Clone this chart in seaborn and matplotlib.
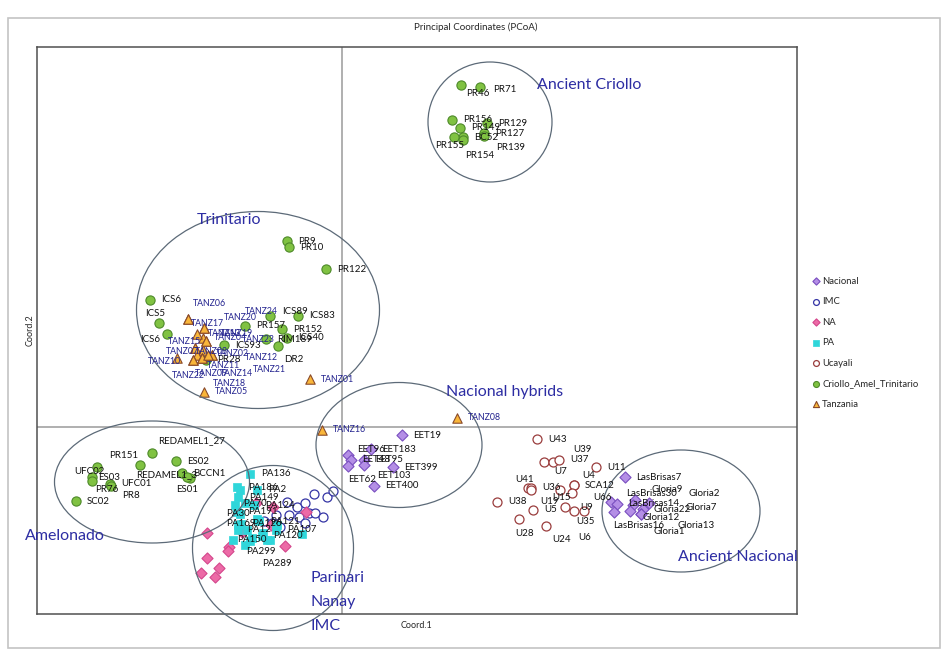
import numpy as np
import pandas as pd
import matplotlib.pyplot as plt
import seaborn as sns
from matplotlib.patches import Ellipse, Rectangle

# ---- data: Coord.1 / Coord.2 ----
crio_names = ['PR46', 'PR71', 'PR156', 'PR149', 'PR129', 'PR127', 'BC52', 'PR155', 'PR139', 'PR154',
              'PR9', 'PR10', 'PR122', 'ICS6', 'ICS5', 'ICS6', 'ICS89', 'ICS83', 'PR157', 'PR152',
              'ICS40', 'RIM189', 'DR2', 'ICS93', 'PR28',
              'REDAMEL1_27', 'PR151', 'UFC02', 'ES03', 'PR76', 'UFC01', 'PR8', 'SC02', 'ES02',
              'BCCN1', 'REDAMEL1_3', 'ES01']
crio_x = [1.19, 1.38, 1.10, 1.18, 1.45, 1.42, 1.21, 1.12, 1.42, 1.21,
          -0.55, -0.53, -0.16, -1.92, -1.83, -1.75, -0.72, -0.44, -0.97, -0.60,
          -0.55, -0.76, -0.64, -1.18, -1.36,
          -1.90, -2.02, -2.45, -2.50, -2.50, -2.32, -2.31, -2.66, -1.66,
          -1.60, -1.52, -1.55]
crio_y = [3.42, 3.40, 3.07, 2.99, 3.04, 2.94, 2.90, 2.90, 2.91, 2.87,
          1.86, 1.80, 1.58, 1.27, 1.04, 0.93, 1.11, 1.11, 1.01, 0.98,
          0.89, 0.88, 0.81, 0.82, 0.67,
          -0.26, -0.38, -0.40, -0.50, -0.54, -0.57, -0.59, -0.74, -0.34,
          -0.46, -0.51, -0.50]

tan_names = ['TANZ%02d' % i for i in range(1, 25)]
tan_x = [-0.32, -1.39, -1.47, -1.39, -1.38, -1.54, -1.45, 1.15, -1.49, -1.65, -1.40, -1.30,
         -1.45, -1.30, -1.47, -0.20, -1.54, -1.40, -1.36, -1.38, -1.34, -1.49, -1.36, -1.38]
tan_y = [0.48, 0.77, 0.79, 0.89, 0.35, 1.08, 0.72, 0.09, 0.67, 0.69, 0.69, 0.72,
         0.93, 0.72, 0.79, -0.03, 1.08, 0.69, 0.86, 0.99, 0.72, 0.67, 0.86, 0.99]

nac_names = ['EET19', 'EET96', 'EET183', 'EET48', 'EET95', 'EET399', 'EET62', 'EET103', 'EET400',
             'LasBrisas7', 'LasBrisas30', 'LasBrisas14', 'LasBrisas16', 'Gloria9', 'Gloria7',
             'Gloria12', 'Gloria22', 'Gloria2', 'Gloria13', 'Gloria1']
nac_x = [0.60, 0.06, 0.29, 0.09, 0.22, 0.51, 0.06, 0.22, 0.32,
         2.83, 2.69, 2.75, 2.72, 2.93, 2.91, 2.88, 3.01, 3.07, 2.99, 2.99]
nac_y = [-0.08, -0.28, -0.22, -0.33, -0.33, -0.40, -0.39, -0.38, -0.59,
         -0.50, -0.75, -0.77, -0.85, -0.73, -0.78, -0.84, -0.82, -0.76, -0.87, -0.87]

uca_names = ['U43', 'U7', 'U39', 'U37', 'U11', 'U4', 'SCA12', 'U41', 'U36', 'U19', 'U15', 'U66',
             'U38', 'U5', 'U9', 'U35', 'U6', 'U28', 'U24']
uca_x = [1.95, 2.02, 2.11, 2.17, 2.54, 2.32, 2.32, 1.86, 1.89, 1.89, 2.18, 2.30,
         1.55, 1.91, 2.23, 2.32, 2.42, 1.77, 2.04]
uca_y = [-0.12, -0.35, -0.35, -0.33, -0.40, -0.58, -0.58, -0.61, -0.61, -0.63, -0.63, -0.66,
         -0.75, -0.83, -0.80, -0.84, -0.84, -0.92, -0.99]

imc_x = [-0.55, -0.45, -0.37, -0.28, -0.15, -0.09, -0.53, -0.43, -0.33, -0.27, -0.19, -0.37,
         -0.78, -0.70, -0.62, -0.66]
imc_y = [-0.75, -0.80, -0.76, -0.67, -0.70, -0.64, -0.88, -0.90, -0.86, -0.86, -0.90, -0.96,
         -0.94, -0.96, -1.00, -0.88]

na_x = [-1.35, -1.13, -1.14, -1.35, -1.23, -1.41, -1.27, -0.57, -0.36, -0.71, -0.86, -0.69, -1.00]
na_y = [-1.06, -1.20, -1.24, -1.31, -1.41, -1.46, -1.50, -1.19, -0.85, -0.98, -0.76, -0.80, -1.05]

pa_names = ['PA136', 'PA186', 'PA2', 'PA149', 'PA70', 'PA124', 'PA30', 'PA191', 'PA169', 'PA126',
            'PA121', 'PA12', 'PA107', 'PA150', 'PA120', 'PA299', 'PA289'] + [''] * 10
pa_x = [-0.92, -1.05, -0.85, -1.04, -1.07, -0.88, -1.02, -1.05, -1.04, -1.01,
        -0.83, -1.04, -0.66, -0.90, -0.80, -0.92, -0.72,
        -0.97, -0.85, -0.79, -0.40, -0.95, -0.65, -1.02, -1.09, -0.75, -0.97]
pa_y = [-0.47, -0.60, -0.63, -0.70, -0.78, -0.78, -0.87, -0.85, -0.98, -0.97,
        -0.94, -1.03, -1.03, -1.11, -1.09, -1.14, -1.13,
        -0.76, -0.92, -1.06, -1.07, -1.03, -0.98, -0.63, -1.13, -1.13, -1.18]

groups = ['Nacional', 'IMC', 'NA', 'PA', 'Ucayali', 'Criollo_Amel_Trinitario', 'Tanzania']

df = pd.concat([
    pd.DataFrame({'group': 'Nacional', 'name': nac_names, 'x': nac_x, 'y': nac_y}),
    pd.DataFrame({'group': 'IMC', 'name': '', 'x': imc_x, 'y': imc_y}),
    pd.DataFrame({'group': 'NA', 'name': '', 'x': na_x, 'y': na_y}),
    pd.DataFrame({'group': 'PA', 'name': pa_names, 'x': pa_x, 'y': pa_y}),
    pd.DataFrame({'group': 'Ucayali', 'name': uca_names, 'x': uca_x, 'y': uca_y}),
    pd.DataFrame({'group': 'Criollo_Amel_Trinitario', 'name': crio_names, 'x': crio_x, 'y': crio_y}),
    pd.DataFrame({'group': 'Tanzania', 'name': tan_names, 'x': tan_x, 'y': tan_y}),
], ignore_index=True)

# ---- styles ----
# group: (marker, size, face, edge, linewidth)
STYLE = {
    'Nacional': ('D', 32, '#b48ee6', '#7a4fc0', 0.8),
    'IMC': ('o', 42, 'white', '#3535a5', 0.9),
    'NA': ('D', 32, '#ec6aa6', '#d4468c', 0.8),
    'PA': ('s', 34, '#2fd6da', '#2fd6da', 0.5),
    'Ucayali': ('o', 42, 'white', '#9a3d3d', 0.9),
    'Criollo_Amel_Trinitario': ('o', 44, '#80c242', '#4e8a2a', 0.8),
    'Tanzania': ('^', 46, '#f9b63a', '#8a4a2a', 0.8),
}

# label offset from its point in pixels (right, down); default (11, 0)
LABEL_NUDGE = {
    'PR46': (5, 8), 'PR71': (13, 2), 'PR155': (-19, 9), 'PR139': (12, 11), 'PR154': (2, 16),
    'ICS5': (-14, -9), 'ICS6#2': (-27, 5), 'ICS89': (12, -4), 'DR2': (6, 13),
    'REDAMEL1_27': (6, -12), 'PR151': (-31, -9), 'UFC02': (-23, 4), 'ES03': (6, 0),
    'PR76': (3, 8), 'PR8': (11, 9), 'REDAMEL1_3': (-54, -3), 'ES01': (-11, 13),
    'TANZ02': (13, 3), 'TANZ03': (0, 4), 'TANZ06': (5, -15), 'TANZ07': (-31, -3),
    'TANZ09': (2, 13), 'TANZ10': (-29, 4), 'TANZ11': (5, 8), 'TANZ12': (33, 3),
    'TANZ14': (8, 18), 'TANZ15': (-27, -6), 'TANZ17': (3, 4), 'TANZ18': (11, 25),
    'TANZ19': (14, -8), 'TANZ20': (20, -11), 'TANZ21': (45, 15), 'TANZ22': (-21, 16),
    'TANZ23': (36, -2), 'TANZ24': (41, -16),
    'EET96': (9, -6), 'EET62': (0, 13), 'EET103': (13, 11),
    'LasBrisas30': (15, -9), 'LasBrisas16': (-1, 13), 'Gloria9': (16, -11), 'Gloria7': (52, 2),
    'Gloria12': (13, 7), 'Gloria2': (40, -10), 'Gloria13': (37, 12), 'Gloria1': (13, 17),
    'U7': (10, 9), 'U39': (20, -13), 'U4': (8, -10), 'U41': (-13, -9), 'U19': (9, 11),
    'U15': (-8, 7), 'U66': (21, 5), 'U9': (15, 0), 'U35': (2, 10), 'U6': (-6, 27),
    'U28': (-4, 14), 'U24': (6, 14),
    'PA70': (8, -2), 'PA30': (-14, -1), 'PA169': (-12, -1), 'PA12': (9, 0), 'PA150': (-15, 2),
    'PA299': (-4, 10), 'PA289': (-8, 23),
}

# cluster ellipses: centre, width, height (chart units)
ELLIPSES = [((1.48, 3.05), 1.24, 1.20), ((-0.84, 1.17), 2.43, 1.97),
            ((-1.90, -0.55), 1.95, 1.22), ((-0.69, -1.21), 1.61, 1.65),
            ((0.57, -0.18), 1.66, 1.25), ((3.39, -0.84), 1.58, 1.22)]
CLUSTER_TEXT = [('Ancient Criollo', 1.95, 3.42, 'center'), ('Trinitario', -1.45, 2.07, 'center'),
                ('Nacional hybrids', 1.04, 0.35, 'center'), ('Amelonado', -3.17, -1.09, 'center'),
                ('Ancient Nacional', 3.36, -1.30, 'center'),
                ('Parinari\nNanay\nIMC', -0.31, -1.44, 'top')]

sns.set_style('white')
plt.rcParams['font.family'] = ['Lato', 'DejaVu Sans']

fig = plt.figure(figsize=(9.44, 6.55), dpi=100)
ax = fig.add_axes([37 / 944, 41 / 655, 760 / 944, 567 / 655])

# outer chart-area frame
fig.patches.append(Rectangle((8 / 944, 7 / 655), 932 / 944, 630 / 655, transform=fig.transFigure,
                             fill=False, edgecolor='#c4c4c4', linewidth=1.2, zorder=0))

ax.axvline(0, color='#a9a9a9', lw=1.3, zorder=0.5)
ax.axhline(0, color='#a9a9a9', lw=1.3, zorder=0.5)

for g in groups:
    mk, s, fc, ec, lw = STYLE[g]
    sub = df[df.group == g]
    sns.scatterplot(data=sub, x='x', y='y', marker=mk, s=s, color=fc, edgecolor=ec,
                    linewidth=lw, label=g, ax=ax, zorder=3, legend=False)

seen = {}
for _, r in df.iterrows():
    if not r['name']:
        continue
    k = seen.get(r['name'], 0) + 1
    seen[r['name']] = k
    key = r['name'] if k == 1 else '%s#%d' % (r['name'], k)
    dx, dy = LABEL_NUDGE.get(key, (11, 0))
    tanz = r['group'] == 'Tanzania'
    ax.annotate(r['name'], (r['x'], r['y']), xytext=(dx, -dy), textcoords='offset pixels',
                ha='left', va='center', fontsize=6.3 if tanz else 7,
                color='#23238f' if tanz else '#111111', zorder=5)

for (c, w, h) in ELLIPSES:
    ax.add_patch(Ellipse(c, w, h, fill=False, edgecolor='#5c6a78', lw=0.9, zorder=4,
                         clip_on=False))

for txt, x, y, va in CLUSTER_TEXT:
    ax.text(x, y, txt, ha='left', va=va, fontsize=11.5, color='#2d2da3',
            linespacing=1.9, zorder=6)

ax.set_xlim(-3.05, 4.55)
ax.set_ylim(-1.87, 3.80)
ax.set_xticks([])
ax.set_yticks([])
for sp in ax.spines.values():
    sp.set_color('#505050')
    sp.set_linewidth(1.1)
ax.set_xlabel('Coord.1', fontsize=6.5, labelpad=5)
ax.set_ylabel('Coord.2', fontsize=6.5, labelpad=2)

fig.text(476 / 944, 1 - 27 / 655, 'Principal Coordinates (PCoA)', ha='center', va='center',
         fontsize=7)

handles, labels = ax.get_legend_handles_labels()
fig.legend(handles, labels, loc='upper left', bbox_to_anchor=(808 / 944, 1 - 273 / 655),
           frameon=False, fontsize=6.8, markerscale=0.65, handlelength=0.9,
           handletextpad=0.2, labelspacing=1.22, borderaxespad=0)

fig.savefig('out.png', dpi=100)
